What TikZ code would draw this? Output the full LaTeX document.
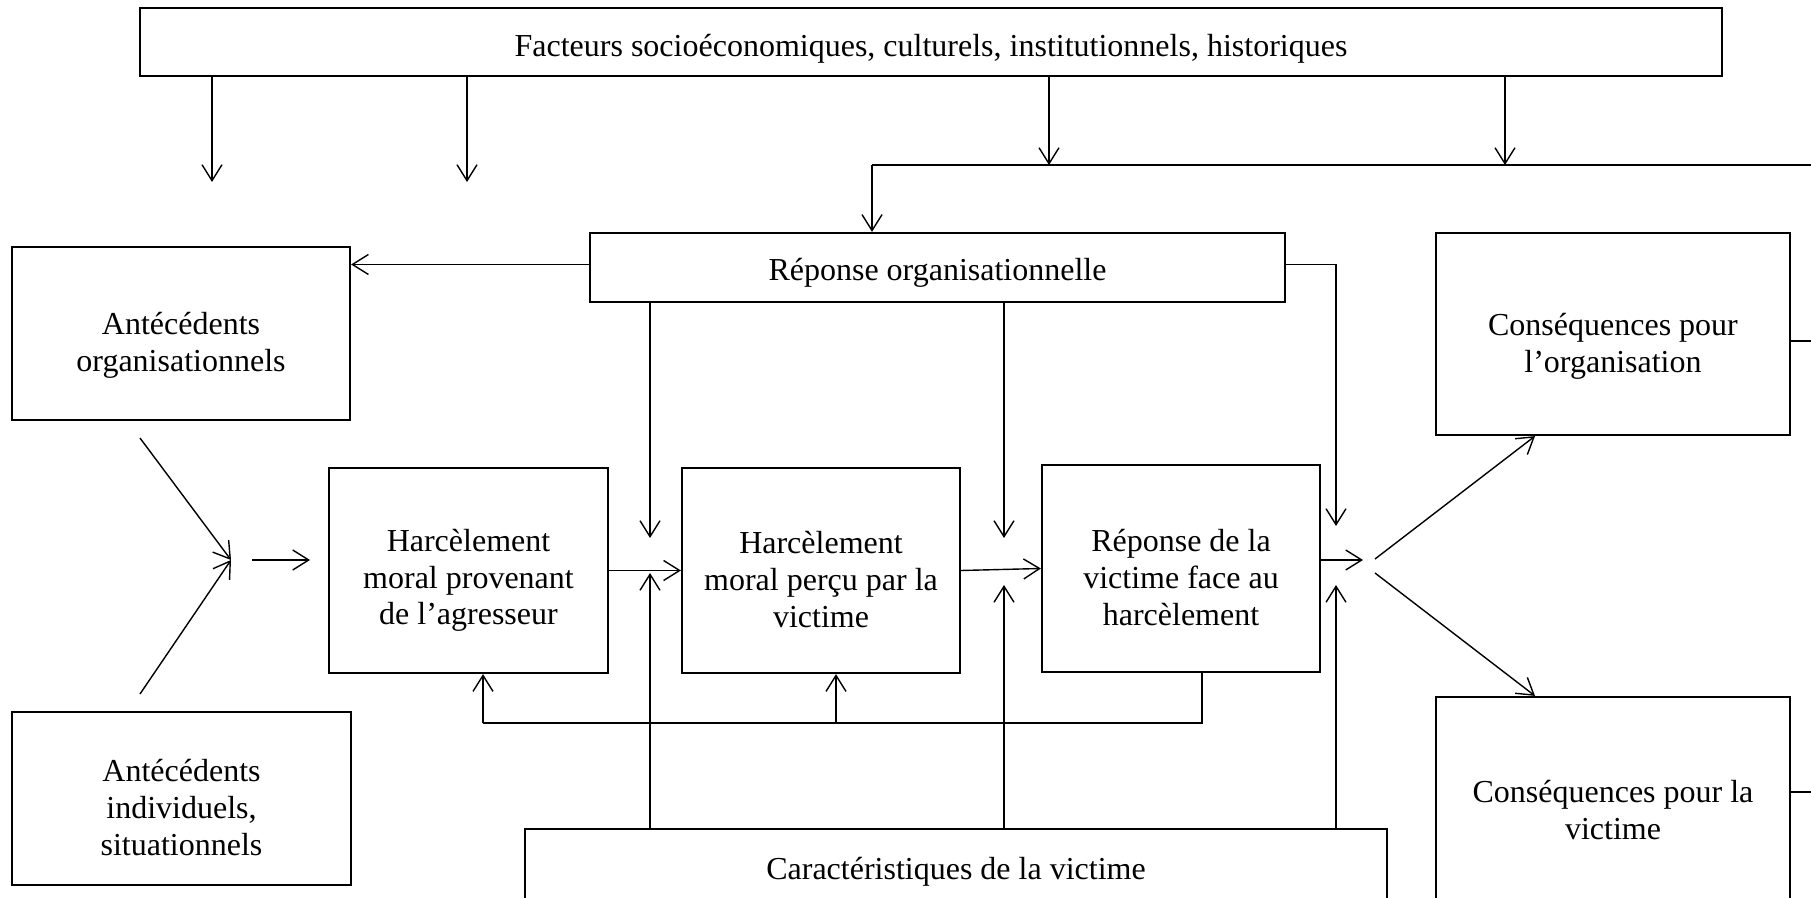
\documentclass[tikz,border=0pt]{standalone}
\usepackage{fontspec}
\setmainfont{Liberation Serif}
\usetikzlibrary{arrows.meta}
\begin{document}
\begin{tikzpicture}[x=0.5pt,y=-0.5pt,
  bx/.style={draw, line width=1.1pt, inner sep=0pt},
  txt/.style={inner sep=0pt, align=center,
    font=\fontsize{16pt}{18.4pt}\selectfont},
  conn/.style={line width=0.7pt},
  arr/.style={conn, -{Straight Barb[length=8pt,width=10pt]}}]
\useasboundingbox (0,0) rectangle (1811,898);
\fill[white] (0,0) rectangle (1811,898);
\clip (0,0) rectangle (1811,898);

% boxes
\node[bx, minimum width=791pt, minimum height=34pt] (top) at (931,42) {};
\node[bx, minimum width=347.5pt, minimum height=34.5pt] (ro) at (937.5,267.5) {};
\node[bx, minimum width=169pt, minimum height=86.5pt] (antorg) at (181,333.5) {};
\node[bx, minimum width=169.5pt, minimum height=86.5pt] (antind) at (181.5,798.5) {};
\node[bx, minimum width=139.5pt, minimum height=102.5pt] (h1) at (468.5,570.5) {};
\node[bx, minimum width=139pt, minimum height=102.5pt] (h2) at (821,570.5) {};
\node[bx, minimum width=139pt, minimum height=103.5pt] (h3) at (1181,568.5) {};
\node[bx, minimum width=177pt, minimum height=101pt] (corg) at (1613,334) {};
\node[bx, minimum width=177pt, minimum height=113pt] (cvic) at (1613,810) {};
\node[bx, minimum width=431pt, minimum height=38pt] (cara) at (956,867) {};

% texts
\node[txt] (topt) at ([yshift=-3.5pt]top.center)
  {Facteurs socioéconomiques, culturels, institutionnels, historiques};
\node[txt] (rot) at ([yshift=-2.5pt]ro.center) {Réponse organisationnelle};
\node[txt] (antorgt) at ([yshift=-6pt]antorg.center) {Antécédents\\organisationnels};
\node[txt] (antindt) at ([yshift=-4.5pt]antind.center) {Antécédents\\individuels,\\situationnels};
\node[txt] (h1t) at ([yshift=-5pt]h1.center) {Harcèlement\\moral provenant\\de l’agresseur};
\node[txt] (h2t) at ([yshift=-4.5pt]h2.center) {Harcèlement\\moral perçu par la\\victime};
\node[txt] (h3t) at ([yshift=-4.5pt]h3.center) {Réponse de la\\victime face au\\harcèlement};
\node[txt] (corgt) at ([yshift=-6pt]corg.center) {Conséquences pour\\l’organisation};
\node[txt] (cvict) at (cvic.center) {Conséquences pour la\\victime};
\node[txt] (carat) at ([yshift=-2.5pt]cara.center) {Caractéristiques de la victime};

% free ends
\coordinate (f1) at (212,182);
\coordinate (f2) at (467,182);
\coordinate (f3) at (1049,165);
\coordinate (f4) at (1505,165);
\coordinate (hl1) at (872,165);
\coordinate (hl2) at (1811,165);
\coordinate (ry) at (0,264.5);
\coordinate (rd) at (1336,526);
\coordinate (d1) at (650,538);
\coordinate (d2) at (1004,538);
\coordinate (u1) at (650,573);
\coordinate (u2) at (1004,585);
\coordinate (u3) at (1336,585);
\coordinate (o3) at (1363,560);
\coordinate (s1) at (1375,559);
\coordinate (s2) at (1375,573);
\coordinate (a1) at (140,438);
\coordinate (a2) at (140,694);
\coordinate (am) at (231,560);
\coordinate (b1) at (252,560);
\coordinate (b2) at (310,560);
\coordinate (fb1) at (1202,723);
\coordinate (fbm) at (836,723);
\coordinate (fb2) at (483,723);
\coordinate (e1) at (1811,341);
\coordinate (e2) at (1811,792);

% top arrows
\draw[arr] (f1 |- top.south) -- (f1);
\draw[arr] (f2 |- top.south) -- (f2);
\draw[arr] (f3 |- top.south) -- (f3);
\draw[arr] (f4 |- top.south) -- (f4);
\draw[conn] (hl1) -- (hl2);
\draw[arr] (hl1) -- (hl1 |- ro.north);

% organisational response
\draw[arr] (ro.west |- ry) -- (antorg.east |- ry);
\draw[arr] (ro.east |- ry) -| (rd);
\draw[arr] (d1 |- ro.south) -- (d1);
\draw[arr] (d2 |- ro.south) -- (d2);

% victim characteristics
\draw[arr] (u1 |- cara.north) -- (u1);
\draw[arr] (u2 |- cara.north) -- (u2);
\draw[arr] (u3 |- cara.north) -- (u3);

% antecedents
\draw[arr] (a1) -- (am);
\draw[arr] (a2) -- (am);
\draw[arr] (b1) -- (b2);

% main chain
\draw[arr] (h1.east) -- (h2.west);
\draw[arr] (h2.east) -- (h3.west);
\draw[arr] (h3.east |- o3) -- (o3);
\draw[arr] (s1) -- (corg.south -| 1535,0);
\draw[arr] (s2) -- (cvic.north -| 1535,0);

% feedback
\draw[conn] (fb1 |- h3.south) -- (fb1) -- (fb2);
\draw[arr] (fb2) -- (fb2 |- h1.south);
\draw[arr] (fbm) -- (fbm |- h2.south);

% outgoing right lines
\draw[conn] (corg.east |- e1) -- (e1);
\draw[conn] (cvic.east |- e2) -- (e2);
\end{tikzpicture}
\end{document}
